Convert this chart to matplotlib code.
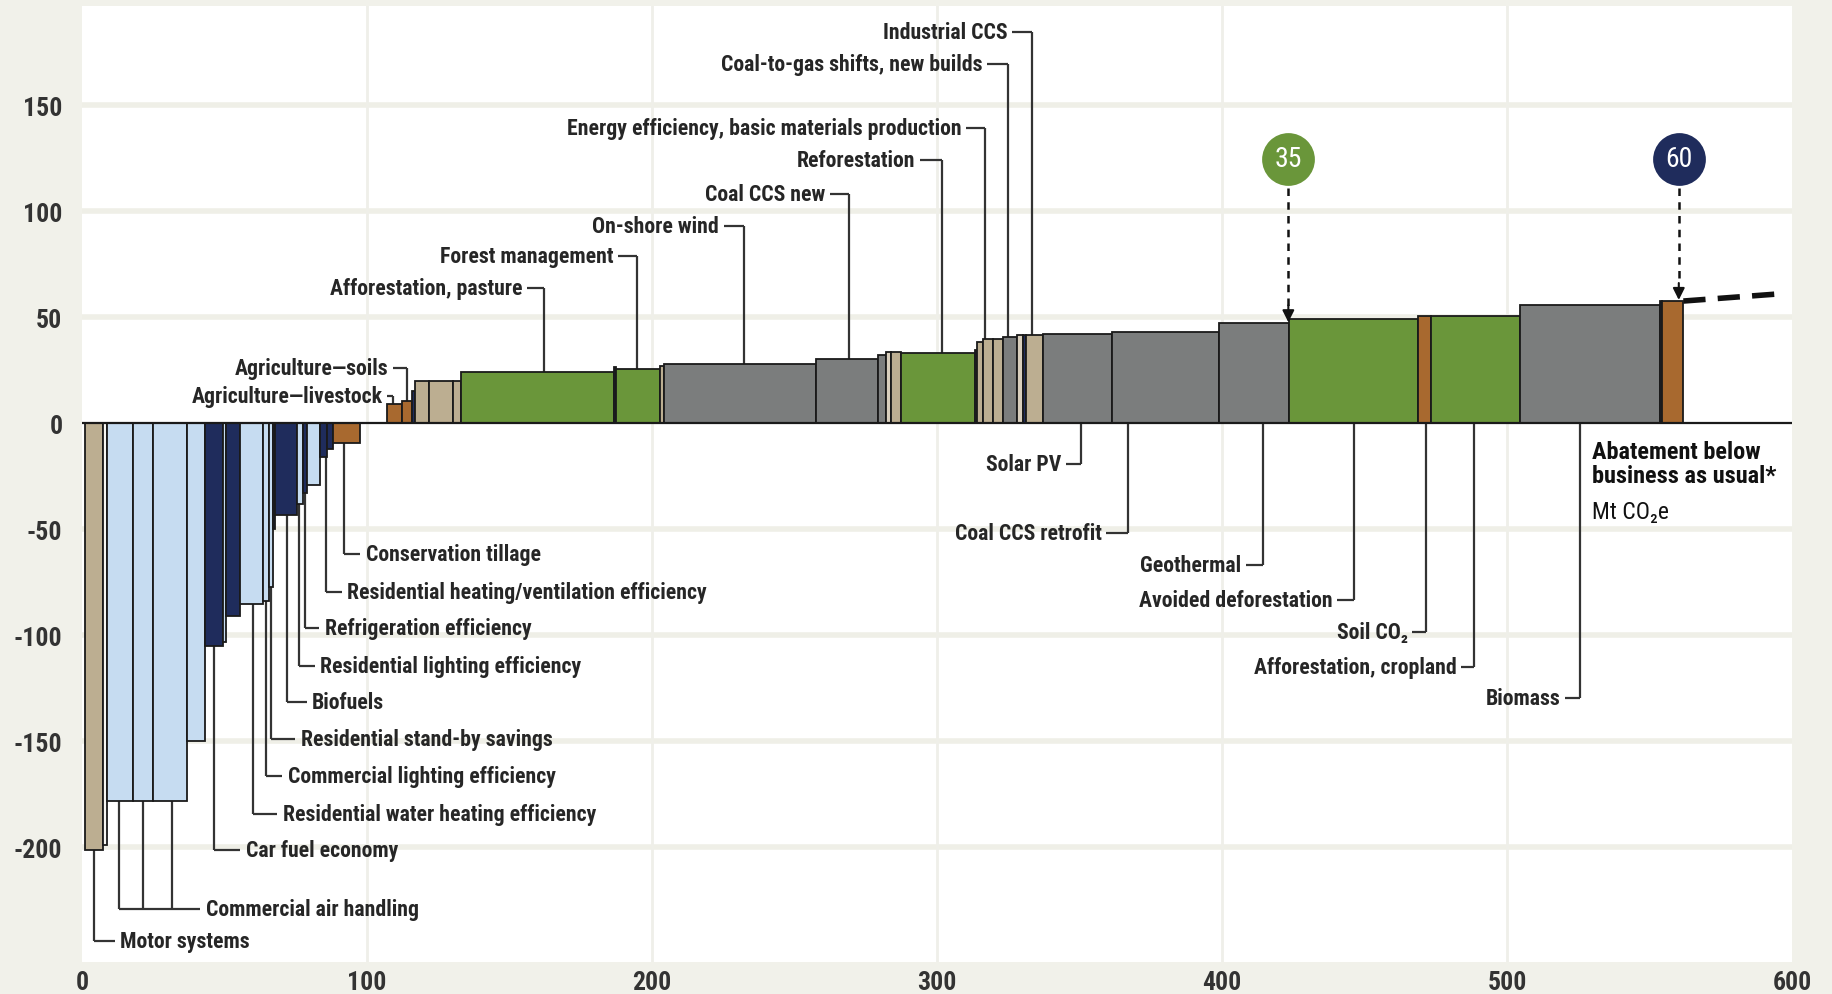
import matplotlib
matplotlib.use("Agg")
import matplotlib.pyplot as plt
from matplotlib import font_manager as fm
from matplotlib.font_manager import FontProperties

# ---------------- data ----------------
x_start = [1.0, 7.3, 8.7, 17.8, 24.8, 36.7, 43.2, 49.6, 50.4, 55.4, 63.6, 65.7, 67.1, 67.7, 75.3, 77.4, 78.8, 83.7, 86.0, 88.2,
           106.9, 112.4, 115.9, 116.8, 121.8, 130.3, 132.9, 186.6, 187.4, 203.0, 204.3, 257.6, 279.4, 282.1, 284.0, 287.3,
           313.3, 314.1, 316.0, 319.8, 323.3, 328.0, 330.3, 331.1, 337.3, 361.4, 399.1, 423.7, 468.8, 473.3, 504.5, 553.7, 554.5]
x_end = [7.3, 8.7, 17.8, 24.8, 36.7, 43.2, 49.6, 50.4, 55.4, 63.6, 65.7, 67.1, 67.7, 75.3, 77.4, 78.8, 83.7, 86.0, 88.2, 97.6,
         112.4, 115.9, 116.8, 121.8, 130.3, 132.9, 186.6, 187.4, 203.0, 204.3, 257.6, 279.4, 282.1, 284.0, 287.3, 313.3,
         314.1, 316.0, 319.8, 323.3, 328.0, 330.3, 331.1, 337.3, 361.4, 399.1, 423.7, 468.8, 473.3, 504.5, 553.7, 554.5, 561.9]
cost = [-201, -199, -178, -178, -178, -150, -105, -103, -91, -85, -84, -77, -50, -43, -38, -33, -29, -16, -12, -9.4,
        9, 10.7, 15.4, 20, 20, 20, 24, 26.8, 25.5, 27, 28, 30.5, 32.2, 33.5, 33.5, 33.3,
        34.6, 38.5, 39.8, 39.8, 40.9, 41.7, 41.7, 41.7, 42, 43, 47.2, 49, 50.8, 50.8, 55.7, 57.7, 57.7]
kind = ["tan", "white", "lb", "lb", "lb", "lb", "navy", "lb", "navy", "lb", "lb", "lb", "navy", "navy", "lb", "navy", "lb", "navy", "navy", "brown",
        "brown", "brown", "navy", "tan", "tan", "tan", "green", "navy", "green", "tan", "grey", "grey", "grey", "ltan", "tan", "green",
        "navy", "tan", "tan", "tan", "grey", "ltan", "navy", "tan", "grey", "grey", "grey", "green", "brown", "green", "grey", "navy", "brown"]

# label text, leader x positions, label level (y), text anchor x
neg_labels = [
    ("Motor systems", [4.1], -244, 13.5),
    ("Commercial air handling", [13.1, 21.3, 31.6], -229, 43.5),
    ("Car fuel economy", [46.4], -201, 57.4),
    ("Residential water heating efficiency", [59.9], -184, 70.5),
    ("Commercial lighting efficiency", [64.5], -166.5, 72.2),
    ("Residential stand-by savings", [66.4], -149, 76.7),
    ("Biofuels", [71.8], -131.3, 80.8),
    ("Residential lighting efficiency", [76.3], -114.2, 83.7),
    ("Refrigeration efficiency", [78.3], -96.5, 85.3),
    ("Residential heating/ventilation efficiency", [85.5], -79.4, 93.1),
    ("Conservation tillage", [91.9], -61.8, 99.7),
]
top_labels = [
    ("Agriculture\u2014livestock", 109.3, 12.7, 105.5),
    ("Agriculture\u2014soils", 114.0, 25.9, 107.5),
    ("Afforestation, pasture", 162.0, 64.0, 154.6),
    ("Forest management", 194.8, 78.9, 186.6),
    ("On-shore wind", 232.2, 93.2, 223.6),
    ("Coal CCS new", 269.0, 108.1, 260.9),
    ("Reforestation", 301.9, 124.1, 292.5),
    ("Energy efficiency, basic materials production", 317.0, 139.5, 308.5),
    ("Coal-to-gas shifts, new builds", 324.8, 169.3, 315.9),
    ("Industrial CCS", 333.5, 184.8, 324.9),
]
bottom_labels = [
    ("Solar PV", 350.7, -19.3, 343.8),
    ("Coal CCS retrofit", 367.0, -51.8, 357.7),
    ("Geothermal", 414.3, -66.7, 406.9),
    ("Avoided deforestation", 446.3, -83.3, 438.9),
    ("Soil CO\u2082", 471.7, -98.2, 465.2),
    ("Afforestation, cropland", 488.5, -114.7, 482.4),
    ("Biomass", 525.8, -129.6, 518.9),
]
markers = [("35", 423.3, "green"), ("60", 560.3, "navy")]
trend_x = [561.9, 594.7]
trend_y = [57.7, 61.0]
x_ticks = [0, 100, 200, 300, 400, 500, 600]
y_ticks = [-200, -150, -100, -50, 0, 50, 100, 150]

# ---------------- fonts ----------------
def find_font(bold):
    prefs = ["liberation sans narrow", "roboto condensed", "dejavu sans condensed",
             "open sans condensed", "noto sans condensed", "condensed", "narrow"]
    best = None
    best_rank = 99
    for f in fm.fontManager.ttflist:
        key = (f.name + " " + f.fname).lower()
        if "italic" in key or "oblique" in key:
            continue
        isbold = ("bold" in key) or (f.weight in ("bold", 700, "700"))
        if bold != isbold:
            continue
        if any(k in key for k in ("semi", "extra", "light", "black", "thin", "medium")):
            continue
        for r, p in enumerate(prefs):
            if p in key:
                if r < best_rank:
                    best, best_rank = f.fname, r
                break
    return best


bold_file = find_font(True)
reg_file = find_font(False)
if bold_file:
    def FPB(size):
        return FontProperties(fname=bold_file, size=size)
else:
    def FPB(size):
        return FontProperties(family="DejaVu Sans", weight="bold", size=size * 0.8)
if reg_file:
    def FPR(size):
        return FontProperties(fname=reg_file, size=size)
else:
    def FPR(size):
        return FontProperties(family="DejaVu Sans", size=size * 0.8)

# ---------------- style ----------------
colors = {"tan": "#bcae91", "ltan": "#d9cfbd", "white": "#f6f6f2", "lb": "#c6dcf1",
          "navy": "#1f2c5c", "brown": "#a8692f", "green": "#6a963a", "grey": "#7b7d7d"}
TXT = "#262626"
LEAD = "#333333"
FS = 15.7

fig = plt.figure(figsize=(18.33, 9.95), dpi=100, facecolor="#f1f1ea")
ax = fig.add_axes([0.0447, 0.0322, 0.9329, 0.9611])
ax.set_facecolor("#ffffff")
ax.set_xlim(0, 600)
ax.set_ylim(-254, 197)

for g in [-200, -150, -100, -50, 50, 100, 150]:
    ax.axhline(g, color="#efefe7", lw=4, zorder=0)
for g in [100, 200, 300, 400, 500]:
    ax.axvline(g, color="#efefe9", lw=2, zorder=0)

widths = [e - s for s, e in zip(x_start, x_end)]
ax.bar(x_start, cost, width=widths, align="edge",
       color=[colors[k] for k in kind], edgecolor="#1a1a1a", linewidth=1.3, zorder=3)
ax.axhline(0, color="#1a1a1a", lw=1.6, zorder=4)


def bar_value(x):
    for s, e, c in zip(x_start, x_end, cost):
        if s <= x <= e:
            return c
    return 0


lk = dict(color=LEAD, lw=1.6, zorder=2, solid_capstyle="butt")
for text, xs, ly, tx in neg_labels:
    for x in xs:
        ax.plot([x, x], [bar_value(x), ly], **lk)
    ax.plot([min(xs), tx - 2.0], [ly, ly], **lk)
    ax.text(tx, ly, text, ha="left", va="center", fontproperties=FPB(FS),
            color=TXT, zorder=5)

for text, lx, ly, tx in top_labels:
    ax.plot([lx, lx], [bar_value(lx), ly], **lk)
    ax.plot([tx + 1.6, lx], [ly, ly], **lk)
    ax.text(tx, ly, text, ha="right", va="center", fontproperties=FPB(FS),
            color=TXT, zorder=5)

for text, lx, ly, tx in bottom_labels:
    ax.plot([lx, lx], [0, ly], **lk)
    ax.plot([tx + 1.6, lx], [ly, ly], **lk)
    ax.text(tx, ly, text, ha="right", va="center", fontproperties=FPB(FS),
            color=TXT, zorder=5)

# circle markers with dashed arrows
for lab, x, col in markers:
    top = bar_value(x)
    ax.plot([x], [124.7], "o", ms=38, color=colors[col], zorder=6, markeredgewidth=0)
    ax.text(x, 124.7, lab, ha="center", va="center", color="white",
            fontproperties=FPR(20), zorder=7)
    ax.plot([x, x], [111, top + 8], color="#111111", lw=1.8, ls=(0, (3, 2.5)), zorder=6)
    ax.annotate("", xy=(x, top + 0.5), xytext=(x, top + 8.5),
                arrowprops=dict(arrowstyle="-|>,head_length=0.7,head_width=0.35",
                                color="#111111", lw=1.5, shrinkA=0, shrinkB=0), zorder=6)

ax.plot(trend_x, trend_y, color="#111111", lw=4, ls=(0, (4, 2.2)), zorder=6)

ax.text(530.0, -8, "Abatement below\nbusiness as usual*", ha="left", va="top",
        fontproperties=FPB(17.5), color="#111111", linespacing=1.05, zorder=5)
ax.text(530.0, -36, "Mt CO\u2082e", ha="left", va="top", fontproperties=FPR(17),
        color="#111111", zorder=5)

ax.set_xticks(x_ticks)
ax.set_yticks(y_ticks)
ax.set_xticklabels([str(t) for t in x_ticks])
ax.set_yticklabels([str(t) for t in y_ticks])
for lab in ax.get_xticklabels() + ax.get_yticklabels():
    lab.set_fontproperties(FPB(18.5))
    lab.set_color("#333333")
ax.tick_params(axis="both", length=0)
ax.tick_params(axis="y", pad=14)
ax.tick_params(axis="x", pad=6)
for sp in ax.spines.values():
    sp.set_visible(False)

fig.savefig("out.png", dpi=100, facecolor=fig.get_facecolor())
